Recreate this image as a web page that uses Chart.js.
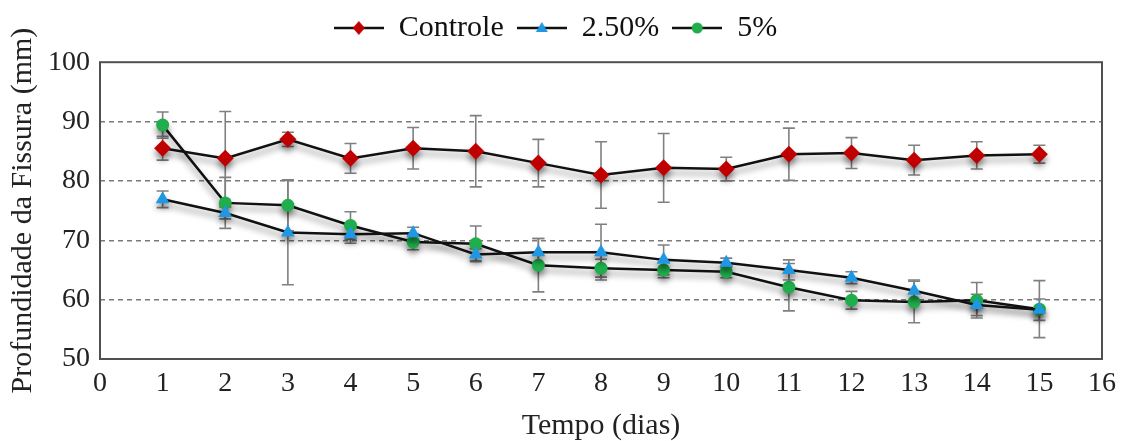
<!DOCTYPE html>
<html>
<head>
<meta charset="utf-8">
<script src="https://cdn.jsdelivr.net/npm/chart.js@4.4.1/dist/chart.umd.min.js"></script>
<style>
  html, body { margin: 0; padding: 0; background: #fff; }
  #wrap { width: 1124px; height: 441px; }
</style>
</head>
<body>
<div id="wrap"><canvas id="chart"></canvas></div>
<script>
// Profundidade da fissura vs tempo

const days = [1, 2, 3, 4, 5, 6, 7, 8, 9, 10, 11, 12, 13, 14, 15];

const controle = [85.5, 83.8, 87.0, 83.8, 85.5, 85.0, 83.0, 81.0, 82.2, 82.0, 84.5, 84.7, 83.5, 84.3, 84.5];
const controleErr = [2.0, 7.9, 1.2, 2.5, 3.5, 6.0, 4.0, 5.6, 5.8, 2.0, 4.4, 2.6, 2.5, 2.3, 1.5];

const p250 = [76.9, 74.6, 71.3, 71.0, 71.2, 67.6, 68.0, 68.0, 66.7, 66.2, 65.0, 63.7, 61.5, 59.1, 58.3];
const p250Err = [1.4, 1.0, 8.8, 1.5, 1.0, 1.0, 2.3, 4.7, 2.5, 0.8, 1.7, 1.0, 1.8, 1.8, 1.8];

const p5 = [89.4, 76.3, 75.9, 72.5, 69.7, 69.4, 65.8, 65.3, 65.0, 64.7, 62.1, 59.9, 59.6, 59.9, 58.4];
const p5Err = [2.2, 4.3, 4.3, 2.3, 1.3, 3.0, 4.5, 1.5, 1.3, 1.0, 4.0, 1.5, 3.5, 3.0, 4.8];

const seriesLabels = ['Controle', '2.50%', '5%'];
const yTicks = [50, 60, 70, 80, 90, 100];

const RED = '#c00000';
const BLUE = '#1f97e3';
const GREEN = '#1fae4b';
const FONT = "'Liberation Serif', 'Times New Roman', serif";

function toPoints(values) {
  return values.map((v, i) => ({ x: days[i], y: v }));
}

// legend symbol: black line with the marker in the middle
function legendIcon(style, color) {
  const c = document.createElement('canvas');
  c.width = 50;
  c.height = 20;
  const g = c.getContext('2d');
  g.strokeStyle = '#111';
  g.lineWidth = 2.5;
  g.beginPath();
  g.moveTo(0, 10);
  g.lineTo(50, 10);
  g.stroke();
  g.fillStyle = color;
  g.beginPath();
  if (style === 'diamond') {
    g.moveTo(25, 3); g.lineTo(31, 10); g.lineTo(25, 17); g.lineTo(19, 10);
  } else if (style === 'triangle') {
    g.moveTo(25, 4); g.lineTo(31, 14); g.lineTo(19, 14);
  } else {
    g.arc(25, 10, 5.5, 0, Math.PI * 2);
  }
  g.closePath();
  g.fill();
  return c;
}

const icons = [
  legendIcon('diamond', RED),
  legendIcon('triangle', BLUE),
  legendIcon('circle', GREEN)
];

const errors = [controleErr, p250Err, p5Err];

const errorBars = {
  id: 'errorBars',
  beforeDatasetsDraw(chart) {
    const { ctx, scales: { x, y } } = chart;
    ctx.save();
    ctx.strokeStyle = '#808080';
    ctx.lineWidth = 1.6;
    chart.data.datasets.forEach((ds, di) => {
      ds.data.forEach((p, i) => {
        const e = errors[di][i];
        const px = x.getPixelForValue(p.x);
        const top = y.getPixelForValue(p.y + e);
        const bot = y.getPixelForValue(p.y - e);
        ctx.beginPath();
        ctx.moveTo(px, top); ctx.lineTo(px, bot);
        ctx.moveTo(px - 6, top); ctx.lineTo(px + 6, top);
        ctx.moveTo(px - 6, bot); ctx.lineTo(px + 6, bot);
        ctx.stroke();
      });
    });
    ctx.restore();
  }
};

const lineShadow = {
  id: 'lineShadow',
  beforeDatasetDraw(chart) {
    const ctx = chart.ctx;
    ctx.save();
    ctx.shadowColor = 'rgba(0,0,0,0.45)';
    ctx.shadowBlur = 6;
    ctx.shadowOffsetY = 5;
  },
  afterDatasetDraw(chart) {
    chart.ctx.restore();
  }
};

const frame = {
  id: 'frame',
  afterDraw(chart) {
    const { ctx, chartArea: a } = chart;
    ctx.save();
    ctx.strokeStyle = '#505050';
    ctx.lineWidth = 2;
    ctx.strokeRect(a.left, a.top, a.right - a.left, a.bottom - a.top);
    ctx.restore();
  }
};

const common = {
  borderColor: '#111',
  borderWidth: 2.5,
  pointRadius: 8,
  pointHoverRadius: 8,
  pointBorderWidth: 0,
  tension: 0,
  fill: false
};

new Chart(document.getElementById('chart'), {
  type: 'line',
  data: {
    datasets: [
      Object.assign({}, common, {
        label: seriesLabels[0],
        data: toPoints(controle),
        pointStyle: 'rectRot',
        pointRadius: 8.5,
        pointBackgroundColor: RED,
        pointBorderColor: RED
      }),
      Object.assign({}, common, {
        label: seriesLabels[1],
        data: toPoints(p250),
        pointStyle: 'triangle',
        pointBackgroundColor: BLUE,
        pointBorderColor: BLUE
      }),
      Object.assign({}, common, {
        label: seriesLabels[2],
        data: toPoints(p5),
        pointStyle: 'circle',
        pointRadius: 6.5,
        pointBackgroundColor: GREEN,
        pointBorderColor: GREEN
      })
    ]
  },
  options: {
    responsive: true,
    maintainAspectRatio: false,
    animation: false,
    layout: { padding: { left: 8, right: 21, top: 0, bottom: 0 } },
    scales: {
      x: {
        type: 'linear',
        min: 0,
        max: 16,
        afterFit(scale) { scale.height = 82; },
        ticks: {
          stepSize: 1,
          padding: 8,
          color: '#222',
          font: { family: FONT, size: 28 }
        },
        grid: { display: false, drawTicks: false },
        border: { display: false },
        title: {
          display: true,
          text: 'Tempo (dias)',
          color: '#222',
          padding: 0,
          font: { family: FONT, size: 30, lineHeight: 1 }
        }
      },
      y: {
        min: 50,
        max: 100,
        afterFit(scale) { scale.width = 92; },
        afterBuildTicks(scale) { scale.ticks = yTicks.map(v => ({ value: v })); },
        ticks: {
          padding: 10,
          color: '#222',
          font: { family: FONT, size: 28 }
        },
        grid: {
          drawTicks: false,
          lineWidth: 1.5,
          color: ctx => (ctx.tick && (ctx.tick.value === 50 || ctx.tick.value === 100)) ? 'rgba(0,0,0,0)' : '#7a7a7a'
        },
        border: { display: false, dash: [5, 4] },
        title: {
          display: true,
          text: 'Profundidade da Fissura (mm)',
          color: '#222',
          padding: 0,
          font: { family: FONT, size: 30, lineHeight: 1 }
        }
      }
    },
    plugins: {
      title: {
        display: true,
        text: '',
        weight: 500,
        padding: { top: 0, bottom: 8 },
        font: { size: 1 }
      },
      legend: {
        position: 'top',
        labels: {
          usePointStyle: true,
          pointStyleWidth: 50,
          padding: 13,
          color: '#111',
          font: { family: FONT, size: 30 },
          generateLabels(chart) {
            const items = Chart.defaults.plugins.legend.labels.generateLabels(chart);
            items.forEach((it, i) => { it.pointStyle = icons[i]; });
            return items;
          }
        }
      },
      tooltip: { enabled: false }
    }
  },
  plugins: [errorBars, lineShadow, frame]
});
</script>
</body>
</html>
